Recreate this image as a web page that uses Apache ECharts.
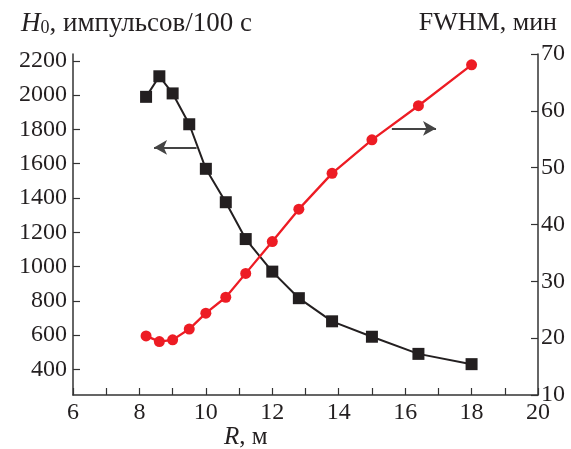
<!DOCTYPE html>
<html lang="ru">
    <head>
        <meta charset="utf-8">
        <title>H0 / FWHM</title>
        <script src="https://cdn.jsdelivr.net/npm/echarts@6/dist/echarts.min.js"></script>
        <style>
            html, body { margin: 0; padding: 0; background: #fff; }
            #chart { width: 571px; height: 449px; }
        </style>
    </head>
    <body>
        <div id="chart"></div>
        <script>
            // R, м
            var rValues = [8.2, 8.6, 9.0, 9.5, 10.0, 10.6, 11.2, 12.0, 12.8, 13.8, 15.0, 16.4, 18.0];
            // H0, импульсов/100 с
            var h0Values = [1990, 2110, 2010, 1830, 1570, 1375, 1160, 970, 815, 680, 590, 490, 430];
            // FWHM, мин
            var fwhmValues = [20.4, 19.4, 19.7, 21.6, 24.4, 27.2, 31.4, 37.0, 42.7, 49.0, 54.9, 60.9, 68.1];
            var leftTicks = [400, 600, 800, 1000, 1200, 1400, 1600, 1800, 2000, 2200];

            var font = '"Liberation Serif", "DejaVu Serif", serif';
            var axisColor = '#333';
            var textColor = '#231f20';

            function pairs(xs, ys) {
                var out = [];
                for (var i = 0; i < xs.length; i++) out.push([xs[i], ys[i]]);
                return out;
            }

            var myChart = echarts.init(document.getElementById('chart'), null, { renderer: 'canvas' });
            var option = {
                animation: false,
                backgroundColor: '#fff',
                textStyle: { fontFamily: font },
                grid: { left: 73, right: 33, top: 54, bottom: 54 },
                xAxis: {
                    type: 'value',
                    min: 6,
                    max: 20,
                    interval: 1,
                    axisLine: { lineStyle: { color: axisColor, width: 1.5 } },
                    axisTick: { inside: true, length: 7, lineStyle: { color: axisColor, width: 1.2 } },
                    splitLine: { show: false },
                    axisLabel: {
                        color: textColor, fontSize: 24, fontFamily: font, margin: 6,
                        formatter: function(v) { return v % 2 === 0 ? String(v) : ''; }
                    }
                },
                yAxis: [
                    {
                        type: 'value',
                        min: 250,
                        max: 2240,
                        axisLine: { show: true, lineStyle: { color: axisColor, width: 1.5 } },
                        axisTick: { show: true, inside: true, length: 7, customValues: leftTicks, lineStyle: { color: axisColor, width: 1.2 } },
                        splitLine: { show: false },
                        axisLabel: {
                            color: textColor, fontSize: 24, fontFamily: font, margin: 6, customValues: leftTicks,
                            formatter: function(v) { return String(v); }
                        }
                    },
                    {
                        type: 'value',
                        min: 10,
                        max: 70,
                        interval: 10,
                        position: 'right',
                        axisLine: { show: true, lineStyle: { color: axisColor, width: 1.5 } },
                        axisTick: { show: true, inside: true, length: 7, lineStyle: { color: axisColor, width: 1.2 } },
                        splitLine: { show: false },
                        axisLabel: { color: textColor, fontSize: 24, fontFamily: font, margin: 3 }
                    }
                ],
                graphic: [
                    {
                        type: 'text', left: 21, top: 10,
                        style: {
                            text: '{i|H}{s|0}{n|, импульсов/100 с}',
                            rich: {
                                i: { fontFamily: font, fontSize: 27, fontStyle: 'italic', fill: textColor },
                                s: { fontFamily: font, fontSize: 18, fill: textColor, verticalAlign: 'bottom', padding: [10, 0, 0, 0] },
                                n: { fontFamily: font, fontSize: 27, fill: textColor }
                            }
                        }
                    },
                    {
                        type: 'text', right: 14, top: 10,
                        style: { text: 'FWHM, мин', font: '26px ' + font, fill: textColor }
                    },
                    {
                        type: 'text', left: 224, top: 425,
                        style: {
                            text: '{i|R}{n|, м}',
                            rich: {
                                i: { fontFamily: font, fontSize: 25, fontStyle: 'italic', fill: textColor },
                                n: { fontFamily: font, fontSize: 25, fill: textColor }
                            }
                        }
                    }
                ],
                series: [
                    {
                        name: 'H0',
                        type: 'line',
                        yAxisIndex: 0,
                        data: pairs(rValues, h0Values),
                        symbol: 'rect',
                        symbolSize: 12,
                        itemStyle: { color: textColor },
                        lineStyle: { color: textColor, width: 2 },
                        z: 3,
                        markLine: {
                            silent: true,
                            symbol: ['none', 'arrow'],
                            symbolSize: [11, 13],
                            label: { show: false },
                            lineStyle: { color: '#444', width: 2, type: 'solid' },
                            data: [[{ coord: [9.72, 1695] }, { coord: [8.44, 1695] }]]
                        }
                    },
                    {
                        name: 'FWHM',
                        type: 'line',
                        yAxisIndex: 1,
                        data: pairs(rValues, fwhmValues),
                        symbol: 'circle',
                        symbolSize: 11,
                        itemStyle: { color: '#ed1c24' },
                        lineStyle: { color: '#ed1c24', width: 2.3 },
                        z: 4,
                        markLine: {
                            silent: true,
                            symbol: ['none', 'arrow'],
                            symbolSize: [11, 13],
                            label: { show: false },
                            lineStyle: { color: '#444', width: 2, type: 'solid' },
                            data: [[{ coord: [15.6, 56.9] }, { coord: [16.93, 56.9] }]]
                        }
                    }
                ]
            };
            myChart.setOption(option);
        </script>
    </body>
</html>
